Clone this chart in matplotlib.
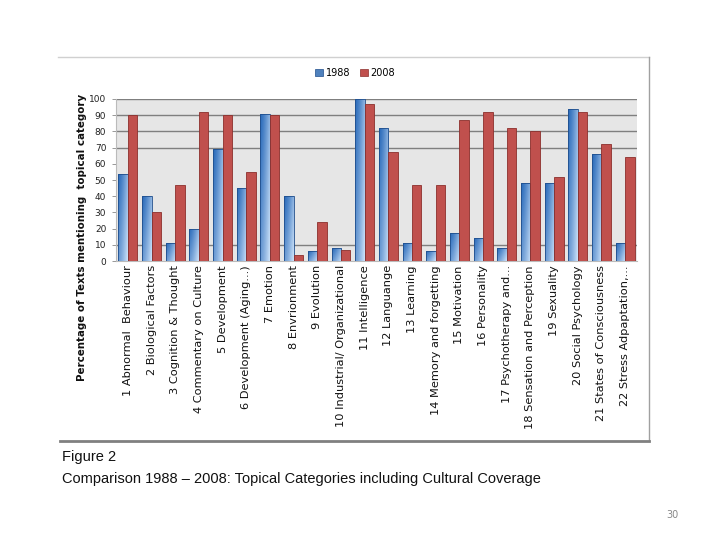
import numpy as np
import matplotlib
matplotlib.use("Agg")
import matplotlib.pyplot as plt
from matplotlib.lines import Line2D
from matplotlib.patches import Rectangle

categories = [
    "1 Abnormal  Behaviour", "2 Biological Factors", "3 Cognition & Thought",
    "4 Commentary on Culture", "5 Development", "6 Development (Aging...)",
    "7 Emotion", "8 Envrionment", "9 Evolution", "10 Industrial/ Organizational",
    "11 Intelligence", "12 Languange", "13 Learning", "14 Memory and forgetting",
    "15 Motivation", "16 Personality", "17 Psychotherapy and...",
    "18 Sensation and Perception", "19 Sexuality", "20 Social Psychology",
    "21 States of Consciousness", "22 Stress Adpaptation,...",
]
vals_1988 = [54, 40, 11, 20, 69, 45, 91, 40, 6, 8, 100, 82, 11, 6, 17, 14, 8, 48, 48, 94, 66, 11]
vals_2008 = [90, 30, 47, 92, 90, 55, 90, 4, 24, 7, 97, 67, 47, 47, 87, 92, 82, 80, 52, 92, 72, 64]
series_names = ["1988", "2008"]
yticks = list(range(0, 101, 10))
grid_levels = [10, 70, 80, 90, 100]

fig = plt.figure(figsize=(7.2, 5.4), dpi=100)
fig.patch.set_facecolor("white")

L, R, T, B = 116, 637, 99, 261
ax = fig.add_axes([L / 720, 1 - B / 540, (R - L) / 720, (B - T) / 540])
ax.set_facecolor("#E6E6E6")

x = np.arange(len(categories))
w = 0.4
blue_bars = ax.bar(x - w / 2, vals_1988, w, color="none", edgecolor="#1F4E8C", linewidth=0.6, zorder=4)
red_bars = ax.bar(x + w / 2, vals_2008, w, color="#C0504D", edgecolor="#8C2F2C", linewidth=0.6, zorder=4)

# gradient fill for blue bars
nh, nv = 32, 64
tx = np.linspace(0, 1, nh)[None, :]
ty = np.linspace(0, 1, nv)[:, None]  # 0 top -> 1 bottom
dark = np.array([0.14, 0.40, 0.72])
light = np.array([0.86, 0.93, 1.0])
a = np.clip(0.03 + 0.55 * tx ** 1.3 + 0.35 * ty, 0, 1)
img = dark[None, None, :] * (1 - a[..., None]) + light[None, None, :] * a[..., None]
for bar in blue_bars:
    x0 = bar.get_x()
    h = bar.get_height()
    im = ax.imshow(img, extent=[x0, x0 + w, 0, h], aspect="auto", zorder=3, interpolation="bilinear")
    im.set_clip_path(bar)

ax.set_xlim(-0.5, len(categories) - 0.5)
ax.set_ylim(0, 100)
ax.set_yticks(yticks)
ax.set_yticklabels([str(v) for v in yticks], fontsize=6.5, color="#222222")
ax.tick_params(axis="y", length=3, width=0.6, color="#888888", pad=4)
ax.set_xticks(x)
ax.set_xticklabels(categories, rotation=90, fontsize=8.2, color="#111111", ha="center", va="top")
ax.tick_params(axis="x", length=0, pad=3)
for v in grid_levels:
    ax.axhline(v, color="#7F7F7F", linewidth=1.0, zorder=2)
for s in ["top", "right"]:
    ax.spines[s].set_visible(False)
ax.spines["left"].set_color("#BBBBBB")
ax.spines["bottom"].set_color("#BBBBBB")

fig.text(82 / 720, 1 - 237 / 540, "Percentage of Texts mentioning  topical category",
         rotation=90, ha="center", va="center", fontsize=7.4, fontweight="bold", color="#111111")

# legend
handles = [Rectangle((0, 0), 1, 1, facecolor="#4F81BD", edgecolor="#1F4E8C", linewidth=0.5),
           Rectangle((0, 0), 1, 1, facecolor="#C0504D", edgecolor="#8C2F2C", linewidth=0.5)]
fig.legend(handles, series_names, loc="center", bbox_to_anchor=(355 / 720, 1 - 73 / 540), ncol=2,
           frameon=False, fontsize=7, handlelength=0.8, handleheight=0.8, handletextpad=0.3,
           columnspacing=1.0)

# frame lines
fig.add_artist(Line2D([58 / 720, 649 / 720], [1 - 57 / 540, 1 - 57 / 540], color="#D0D0D0", linewidth=1.0))
fig.add_artist(Line2D([649 / 720, 649 / 720], [1 - 57 / 540, 1 - 441 / 540], color="#A0A0A0", linewidth=1.0))
fig.add_artist(Line2D([60 / 720, 649 / 720], [1 - 441 / 540, 1 - 441 / 540], color="#808080", linewidth=2.0))

# caption
fig.text(62 / 720, 1 - 457 / 540, "Figure 2", fontsize=10.5, family="Liberation Sans",
         ha="left", va="center", color="#111111")
fig.text(62 / 720, 1 - 479 / 540, "Comparison 1988 \u2013 2008: Topical Categories including Cultural Coverage",
         fontsize=10.5, family="Liberation Sans", ha="left", va="center", color="#111111")
fig.text(672 / 720, 1 - 515 / 540, "30", fontsize=7, color="#888888", ha="center", va="center")

fig.savefig("out.png", dpi=100)
